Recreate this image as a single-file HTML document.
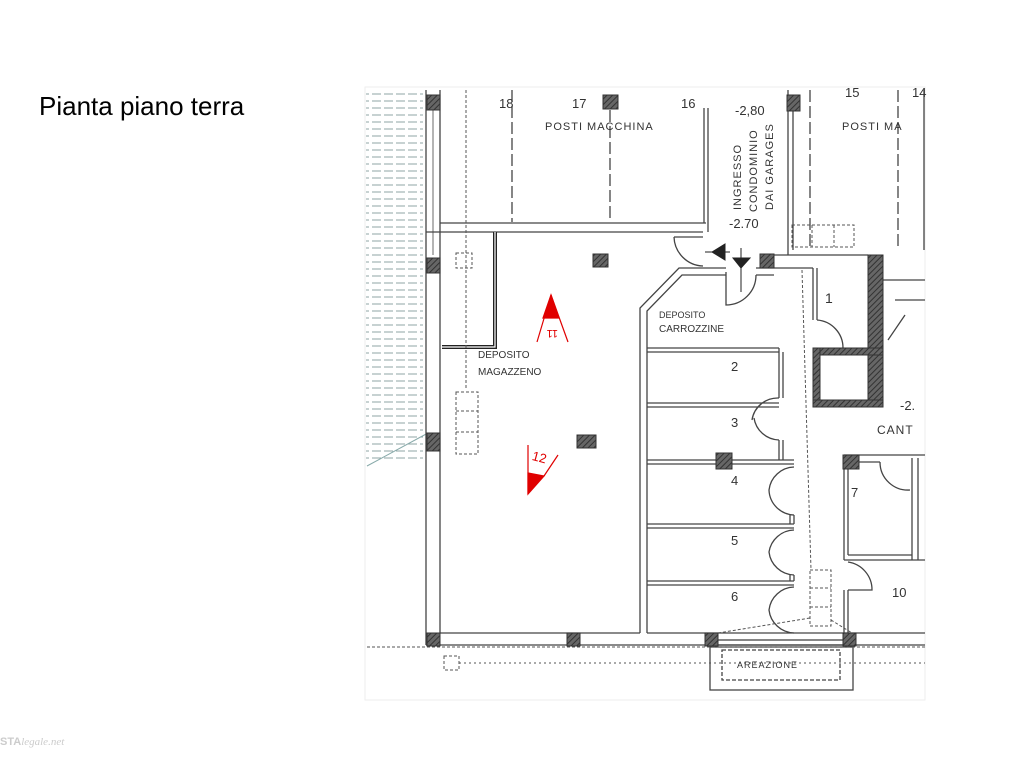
<!DOCTYPE html>
<html><head><meta charset="utf-8"><style>
html,body{margin:0;padding:0;background:#fff;width:1024px;height:761px;overflow:hidden;font-family:"Liberation Sans",sans-serif}
.t{position:absolute;left:39px;top:91px;font-size:26px;color:#000;letter-spacing:0px}
.w{position:absolute;left:0;top:736px;font-size:11px;color:#ccc}
</style></head><body>
<div class="t">Pianta piano terra</div>
<div class="w"><b style="font-family:'Liberation Sans'">STA</b><i style="font-family:'Liberation Serif'">legale.net</i></div>
<svg width="1024" height="761" style="position:absolute;left:0;top:0" xmlns="http://www.w3.org/2000/svg">
<defs><pattern id="h" width="4" height="4" patternUnits="userSpaceOnUse" patternTransform="rotate(45)"><rect width="4" height="4" fill="#666"/><line x1="0" y1="0" x2="0" y2="4" stroke="#333" stroke-width="2"/></pattern>
<pattern id="lh" width="60" height="7" patternUnits="userSpaceOnUse"><line x1="0" y1="3" x2="58" y2="3" stroke="#8fa5a5" stroke-width="1" stroke-dasharray="9,3"/></pattern></defs>
<rect x="365" y="87" width="560" height="613" fill="#fff" stroke="#eee"/>
<rect x="366" y="90" width="57" height="370" fill="url(#lh)"/>
<line x1="367" y1="466" x2="428" y2="433" stroke="#8aa" />
<g stroke="#444" stroke-width="1.3" fill="none">
<line x1="426" y1="90" x2="426" y2="645"/><line x1="440" y1="90" x2="440" y2="633"/><line x1="433" y1="110" x2="433" y2="255" stroke-width="0.8"/>
<line x1="440" y1="633" x2="640" y2="633"/><line x1="647" y1="633" x2="925" y2="633"/><line x1="426" y1="645" x2="925" y2="645"/>
<line x1="440" y1="223" x2="706" y2="223"/><line x1="426" y1="232" x2="703" y2="232"/>
<line x1="704" y1="108" x2="704" y2="223"/><line x1="708" y1="108" x2="708" y2="232"/>
<path d="M674 237 A30 30 0 0 0 703 266"/><line x1="674" y1="237" x2="703" y2="237"/>
<path d="M640 633 V308 L679 268 H726"/><path d="M647 633 V311 L682 275 H726"/>
<path d="M726 272 V305 A30 30 0 0 0 756 275"/><line x1="756" y1="268" x2="774" y2="268"/><line x1="756" y1="275" x2="774" y2="275"/>
<line x1="788" y1="90" x2="788" y2="255"/><line x1="793" y1="108" x2="793" y2="250"/>
<line x1="774" y1="255" x2="868" y2="255"/><line x1="774" y1="268" x2="813" y2="268"/>
<line x1="647" y1="348" x2="779" y2="348"/><line x1="647" y1="352" x2="779" y2="352"/>
<line x1="647" y1="403" x2="779" y2="403"/><line x1="647" y1="407" x2="779" y2="407"/>
<line x1="647" y1="460" x2="794" y2="460"/><line x1="647" y1="464" x2="794" y2="464"/>
<line x1="647" y1="524" x2="794" y2="524"/><line x1="647" y1="528" x2="794" y2="528"/>
<line x1="647" y1="581" x2="794" y2="581"/><line x1="647" y1="585" x2="794" y2="585"/>
<line x1="779" y1="348" x2="779" y2="398"/><line x1="783" y1="352" x2="783" y2="398"/>
<path d="M779 398 A26 26 0 0 0 752 420"/><path d="M779 440 A26 26 0 0 1 754 418"/><line x1="779" y1="440" x2="779" y2="460"/><line x1="783" y1="440" x2="783" y2="460"/>
<path d="M794 467 A26 26 0 0 0 769 490 A26 26 0 0 0 794 515"/><line x1="790" y1="515" x2="790" y2="524"/><line x1="794" y1="515" x2="794" y2="524"/>
<path d="M794 530 A26 26 0 0 0 769 552 A26 26 0 0 0 794 575"/>
<path d="M794 587 A26 26 0 0 0 769 610 A26 26 0 0 0 794 633"/><line x1="790" y1="575" x2="790" y2="581"/><line x1="794" y1="575" x2="794" y2="581"/>
<line x1="813" y1="268" x2="813" y2="320"/><line x1="817" y1="268" x2="817" y2="320"/>
<path d="M817 320 A28 28 0 0 1 843 348"/>
<line x1="844" y1="455" x2="844" y2="560"/><line x1="848" y1="465" x2="848" y2="555"/>
<line x1="844" y1="455" x2="925" y2="455"/><line x1="848" y1="462" x2="880" y2="462"/>
<path d="M880 462 A28 28 0 0 0 910 490"/><line x1="912" y1="458" x2="912" y2="560"/><line x1="918" y1="458" x2="918" y2="560"/>
<line x1="844" y1="560" x2="925" y2="560"/><line x1="848" y1="555" x2="912" y2="555"/>
<line x1="844" y1="590" x2="844" y2="633"/><line x1="848" y1="590" x2="848" y2="633"/>
<path d="M848 562 A28 28 0 0 1 872 590 H848"/>
<path d="M883 280 H925 M895 300 H925 M905 315 L888 340"/>
<rect x="710" y="647" width="143" height="43"/><rect x="714" y="640" width="135" height="5"/>
<rect x="722" y="650" width="118" height="30" stroke-dasharray="4,2"/>
<path d="M495 232 V347 H442" stroke="#222" stroke-width="4"/><path d="M495 232 V347 H442" stroke="#fff" stroke-width="1.2"/>
<line x1="512" y1="90" x2="512" y2="222" stroke-dasharray="12,4"/><line x1="610" y1="110" x2="610" y2="222" stroke-dasharray="12,4"/>
<line x1="810" y1="90" x2="810" y2="250" stroke-dasharray="12,4"/><line x1="898" y1="90" x2="898" y2="250" stroke-dasharray="12,4"/>
<line x1="924" y1="90" x2="924" y2="250"/>
</g>
<g stroke="#555" stroke-width="1" fill="none" stroke-dasharray="3,2">
<line x1="466" y1="90" x2="466" y2="390"/><line x1="802" y1="270" x2="811" y2="570"/>
<rect x="456" y="253" width="16" height="15"/><rect x="456" y="392" width="22" height="62"/><line x1="456" y1="411" x2="478" y2="411"/><line x1="456" y1="432" x2="478" y2="432"/>
<rect x="810" y="570" width="21" height="56"/><line x1="810" y1="588" x2="831" y2="588"/><line x1="810" y1="607" x2="831" y2="607"/>
<rect x="792" y="225" width="62" height="22"/><line x1="812" y1="225" x2="812" y2="247"/><line x1="834" y1="225" x2="834" y2="247"/>
<rect x="444" y="656" width="15" height="14"/>
<line x1="367" y1="647" x2="925" y2="647"/><line x1="459" y1="663" x2="925" y2="663" stroke-dasharray="2,3"/>
<line x1="718" y1="633" x2="810" y2="618"/><line x1="831" y1="620" x2="852" y2="633"/>
</g>
<g fill="url(#h)" stroke="#333" stroke-width="1">
<rect x="427" y="95" width="13" height="15"/><rect x="427" y="258" width="13" height="15"/><rect x="427" y="433" width="13" height="18"/><rect x="427" y="633" width="13" height="13"/>
<rect x="567" y="633" width="13" height="13"/><rect x="705" y="633" width="13" height="13"/><rect x="843" y="633" width="13" height="13"/>
<rect x="593" y="254" width="15" height="13"/><rect x="577" y="435" width="19" height="13"/><rect x="716" y="453" width="16" height="16"/><rect x="603" y="95" width="15" height="14"/>
<rect x="760" y="254" width="14" height="14"/><rect x="787" y="95" width="13" height="16"/><rect x="843" y="455" width="16" height="14"/>
<rect x="868" y="255" width="15" height="150"/><rect x="813" y="348" width="70" height="7"/><rect x="813" y="348" width="7" height="59"/><rect x="813" y="400" width="70" height="7"/>
</g>
<g fill="#222" stroke="#222"><path d="M712 252 L725 244 V260 Z"/><line x1="705" y1="252" x2="730" y2="252"/><path d="M733 258 H750 L741 268 Z"/><line x1="741" y1="248" x2="741" y2="292"/></g>
<g fill="#e00000" stroke="#e00000" stroke-width="1.2">
<path d="M551 295 L543 318 H559 Z"/><line x1="551" y1="295" x2="537" y2="342" fill="none"/><line x1="551" y1="295" x2="568" y2="342" fill="none"/>
<line x1="528" y1="445" x2="528" y2="494"/><path d="M528 473 L544 476 L528 494 Z"/><line x1="544" y1="476" x2="558" y2="455"/>
</g>
<g font-family="Liberation Sans,sans-serif" fill="#333" font-size="11">
<text x="499" y="108" font-size="13">18</text><text x="572" y="108" font-size="13">17</text><text x="681" y="108" font-size="13">16</text>
<text x="545" y="130" letter-spacing="1">POSTI  MACCHINA</text>
<text x="735" y="115" font-size="13">-2,80</text><text x="729" y="228" font-size="13">-2.70</text>
<text transform="translate(741,210) rotate(-90)" letter-spacing="1">INGRESSO</text>
<text transform="translate(757,212) rotate(-90)" letter-spacing="1">CONDOMINIO</text>
<text transform="translate(773,210) rotate(-90)" letter-spacing="1">DAI GARAGES</text>
<text x="845" y="97" font-size="13">15</text><text x="912" y="97" font-size="13">14</text><text x="842" y="130" letter-spacing="1">POSTI  MA</text>
<text x="659" y="318" font-size="9">DEPOSITO</text><text x="659" y="332" font-size="10">CARROZZINE</text>
<text x="478" y="358" font-size="10">DEPOSITO</text><text x="478" y="375" font-size="10">MAGAZZENO</text>
<text x="825" y="303" font-size="14">1</text><text x="731" y="371" font-size="13">2</text><text x="731" y="427" font-size="13">3</text><text x="731" y="485" font-size="13">4</text><text x="731" y="545" font-size="13">5</text><text x="731" y="601" font-size="13">6</text>
<text x="851" y="497" font-size="13">7</text><text x="892" y="597" font-size="13">10</text>
<text x="900" y="410" font-size="13">-2.</text><text x="877" y="434" font-size="12" letter-spacing="1">CANT</text>
<text x="737" y="668" font-size="9" letter-spacing="1">AREAZIONE</text>
</g>
<text x="532" y="462" fill="#e00000" font-size="13" font-family="Liberation Sans" transform="rotate(15 540 458)">12</text>
<text x="546" y="338" fill="#e00000" font-size="11" font-family="Liberation Sans" transform="rotate(180 552 334)">11</text>
</svg>
</body></html>
